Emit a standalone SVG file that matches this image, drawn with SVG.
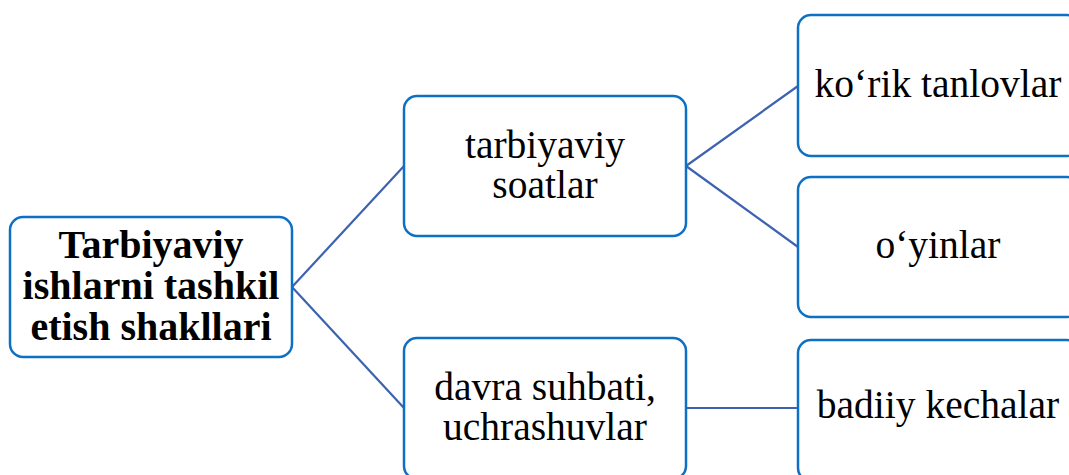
<svg xmlns="http://www.w3.org/2000/svg" width="1069" height="475" viewBox="0 0 1069 475">
<style>
.box{fill:#fff;stroke:#0E70C4;stroke-width:2.5}
.t{font-size:39.5px;fill:#000;text-anchor:middle}
.b{font-weight:bold;font-size:40px}
.c{stroke:#3D62B0;stroke-width:2.2;fill:none}
</style>
<rect width="1069" height="475" fill="#fff"/>
<g id="connectors">
<line class="c" x1="292" y1="287" x2="404" y2="166"/>
<line class="c" x1="292" y1="287" x2="404" y2="408"/>
<line class="c" x1="686" y1="166" x2="798" y2="86"/>
<line class="c" x1="686" y1="166" x2="798" y2="247"/>
<line class="c" x1="686" y1="408" x2="798" y2="408"/>
</g>
<g font-family="Liberation Serif, Tinos, DejaVu Serif, serif">
<g id="root">
<rect class="box" x="10" y="217" width="282" height="140" rx="13"/>
<text class="t b" x="151" y="258">Tarbiyaviy</text>
<text class="t b" x="151" y="299">ishlarni tashkil</text>
<text class="t b" x="151" y="340">etish shakllari</text>
</g>
<g id="tarbiyaviy-soatlar">
<rect class="box" x="404" y="96" width="282" height="140" rx="13"/>
<text class="t" x="545" y="158">tarbiyaviy</text>
<text class="t" x="545" y="198">soatlar</text>
</g>
<g id="davra-suhbati">
<rect class="box" x="404" y="338" width="282" height="141" rx="13"/>
<text class="t" x="545" y="400">davra suhbati,</text>
<text class="t" x="545" y="440">uchrashuvlar</text>
</g>
<g id="korik-tanlovlar">
<rect class="box" x="798" y="15" width="282" height="141" rx="13"/>
<text class="t" x="938" y="97">ko‘rik tanlovlar</text>
</g>
<g id="oyinlar">
<rect class="box" x="798" y="177" width="282" height="140" rx="13"/>
<text class="t" x="938" y="258">o‘yinlar</text>
</g>
<g id="badiiy-kechalar">
<rect class="box" x="798" y="340" width="282" height="141" rx="13"/>
<text class="t" x="938" y="418">badiiy kechalar</text>
</g>
</g>
</svg>
